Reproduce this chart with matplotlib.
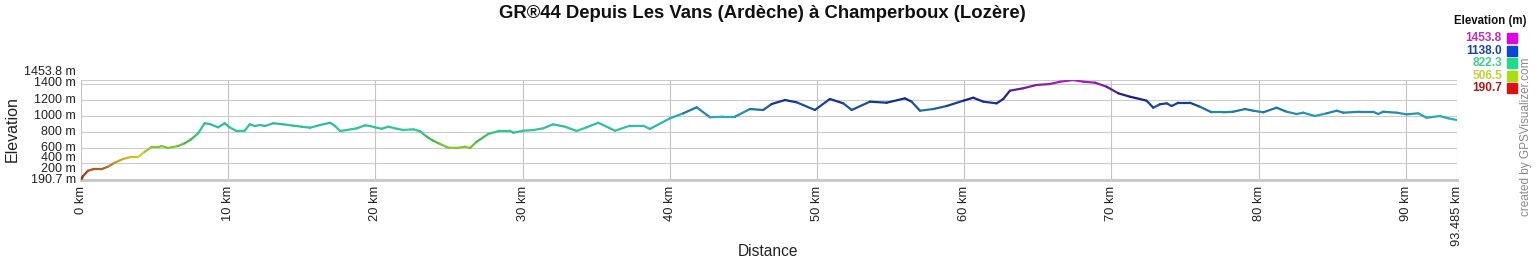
import numpy as np
import matplotlib
matplotlib.use("Agg")
import matplotlib.pyplot as plt
from matplotlib.collections import LineCollection
from matplotlib.colors import LinearSegmentedColormap
import matplotlib.transforms as mtransforms

plt.rcParams['font.family'] = ['Liberation Sans', 'DejaVu Sans']

title = "GR®44 Depuis Les Vans (Ardèche) à Champerboux (Lozère)"

distance_km = [0.0, 0.14, 0.48, 0.82, 1.38, 1.83, 2.29, 2.85, 3.31, 3.87, 4.33, 4.78, 5.23, 5.46,
               5.91, 6.59, 7.04, 7.49, 7.95, 8.40, 8.74, 9.31, 9.76, 10.10, 10.55, 11.12, 11.46,
               11.80, 12.16, 12.50, 13.07, 13.74, 14.42, 14.99, 15.56, 16.24, 16.92, 17.26, 17.60,
               18.05, 18.73, 19.29, 19.63, 19.97, 20.43, 20.88, 21.45, 21.90, 22.58, 23.03, 23.49,
               23.93, 24.39, 24.95, 25.52, 26.09, 26.43, 26.88, 27.67, 28.46, 29.14, 29.37, 30.05,
               30.73, 31.40, 32.08, 32.88, 33.67, 34.35, 35.14, 36.28, 37.30, 38.20, 38.65, 40.01,
               40.92, 41.83, 42.73, 43.63, 44.43, 45.45, 46.35, 46.92, 47.83, 48.62, 49.86, 50.88,
               51.79, 52.36, 53.60, 54.73, 55.98, 56.43, 57.00, 57.90, 58.81, 59.94, 60.62, 61.30,
               62.21, 62.66, 63.11, 64.01, 64.92, 65.83, 66.51, 67.41, 68.09, 68.89, 69.68, 70.47,
               71.26, 71.94, 72.40, 72.85, 73.30, 73.76, 74.10, 74.55, 75.34, 76.02, 76.81, 77.60,
               78.28, 79.08, 79.64, 80.32, 81.23, 81.91, 82.59, 83.04, 83.83, 84.63, 85.31, 85.76,
               86.89, 87.79, 88.13, 88.47, 89.38, 90.06, 90.85, 91.42, 92.32, 92.89, 93.485]

elevation_m = [190.7, 241, 308, 326, 326, 359, 409, 456, 478, 478, 548, 604, 604, 620,
               595, 620, 654, 705, 780, 907, 898, 856, 907, 856, 810, 813, 894,
               873, 885, 873, 907, 894, 877, 864, 851, 885, 914, 873, 810,
               822, 843, 881, 873, 856, 838, 864, 838, 822, 831, 805, 738,
               687, 645, 599, 595, 611, 595, 674, 772, 813, 813, 788, 813,
               822, 843, 894, 864, 810, 856, 914, 813, 877, 877, 835, 970,
               1033, 1109, 983, 990, 990, 1087, 1075, 1150, 1201, 1172, 1075, 1214,
               1159, 1075, 1180, 1167, 1222, 1180, 1066, 1087, 1125, 1192, 1230, 1180,
               1159, 1214, 1319, 1349, 1391, 1403, 1432, 1453.8, 1432, 1420, 1369, 1286,
               1243, 1214, 1192, 1104, 1147, 1159, 1125, 1167, 1167, 1116, 1046, 1046,
               1053, 1087, 1066, 1046, 1104, 1053, 1024, 1041, 999, 1033, 1066, 1041,
               1053, 1053, 1024, 1053, 1041, 1020, 1033, 977, 999, 970, 948]

y_tick_values = [190.7, 200, 400, 600, 800, 1000, 1200, 1400, 1453.8]
y_tick_labels = ["190.7 m", "200 m", "400 m", "600 m", "800 m", "1000 m", "1200 m", "1400 m", "1453.8 m"]
x_tick_values = [0, 10, 20, 30, 40, 50, 60, 70, 80, 90, 93.485]
x_tick_labels = ["0 km", "10 km", "20 km", "30 km", "40 km", "50 km", "60 km", "70 km", "80 km", "90 km", "93.485 km"]

legend_values = ["1453.8", "1138.0", "822.3", "506.5", "190.7"]
legend_text_colors = ["#c030c0", "#1f44a0", "#3fd08f", "#bcd238", "#b01c1c"]
legend_box_colors = ["#e000e0", "#0a46d8", "#1edc88", "#aade10", "#e01010"]

ymin, ymax = 190.7, 1453.8
xmax = 93.485

fig = plt.figure(figsize=(15.37, 2.60), dpi=100)
ax = fig.add_axes([81/1537, 1-180/260, (1457-81)/1537, 100/260])
ax.set_xlim(0, xmax)
ax.set_ylim(ymin, ymax)

cmap = LinearSegmentedColormap.from_list("elev", [
    (0.0, "#961818"),
    ((350-ymin)/(ymax-ymin), "#b06a28"),
    ((506.5-ymin)/(ymax-ymin), "#d2d428"),
    ((680-ymin)/(ymax-ymin), "#48b840"),
    ((822.3-ymin)/(ymax-ymin), "#2ec89c"),
    ((1000-ymin)/(ymax-ymin), "#2aa8b8"),
    ((1138-ymin)/(ymax-ymin), "#1a4898"),
    ((1230-ymin)/(ymax-ymin), "#141c80"),
    ((1330-ymin)/(ymax-ymin), "#5a2094"),
    (1.0, "#b020c0"),
])

x = np.array(distance_km)
y = np.array(elevation_m)
pts = np.column_stack([x, y]).reshape(-1, 1, 2)
segs = np.concatenate([pts[:-1], pts[1:]], axis=1)
mid = (y[:-1] + y[1:]) / 2
lc = LineCollection(segs, cmap=cmap, norm=plt.Normalize(ymin, ymax), linewidths=1.6,
                    capstyle='round', joinstyle='round', zorder=3)
lc.set_array(mid)
ax.add_collection(lc)

# grid
for v in y_tick_values[1:]:
    ax.axhline(v, color="#cccccc", lw=0.8, zorder=1)
for v in x_tick_values:
    ax.axvline(v, color="#c4c4c4", lw=0.8, zorder=1)

for s in ["top", "left", "right"]:
    ax.spines[s].set_visible(False)
ax.spines["bottom"].set_color("#c8c8c8")
ax.spines["bottom"].set_linewidth(2.0)

ax.set_xticks(x_tick_values)
ax.set_xticklabels(x_tick_labels, rotation=90, fontsize=9.3, color="#222222")
ax.tick_params(axis='x', length=0, pad=4)
ax.set_yticks([])

# y tick labels with small offsets to limit overlaps (as in reference)
offsets_px = {190.7: 0, 200: 10, 400: 5, 600: 0, 800: 0, 1000: 0, 1200: 0, 1400: 1, 1453.8: 8}
trans = mtransforms.blended_transform_factory(ax.transAxes, ax.transData)
for v, lab in zip(y_tick_values, y_tick_labels):
    off = mtransforms.ScaledTranslation(-5/100, offsets_px[v]/100, fig.dpi_scale_trans)
    ax.text(0, v, lab, transform=trans + off, ha="right", va="center",
            fontsize=9.0, color="#222222")

fig.text(12/1537, 1-129/260, "Elevation", rotation=90, ha="center", va="center",
         fontsize=11.5, color="#222222")
fig.text(768/1537, 1-252/260, "Distance", ha="center", va="center",
         fontsize=11.2, color="#222222")
fig.text(762/1537, 1-13/260, title, ha="center", va="center", fontsize=13.3,
         fontweight="bold", color="#111111")

# legend
fig.text(1527/1537, 1-21/260, "Elevation (m)", ha="right", va="center", fontsize=8.3,
         fontweight="bold", color="#111111")
rows_y = [38, 50.5, 63, 75.5, 88]
for yy, lab, tc, bc in zip(rows_y, legend_values, legend_text_colors, legend_box_colors):
    fig.text(1502/1537, 1-yy/260, lab, ha="right", va="center", fontsize=8.6,
             fontweight="bold", color=tc)
    fig.patches.append(plt.Rectangle((1507/1537, 1-(yy+5)/260), 10/1537, 10/260,
                                     transform=fig.transFigure, color=bc, figure=fig))

fig.text(1526/1537, 1-137/260, "created by GPSVisualizer.com", rotation=90,
         ha="center", va="center", fontsize=8.5, color="#8a8a8a")

fig.savefig("out.png", dpi=100, facecolor="white")
